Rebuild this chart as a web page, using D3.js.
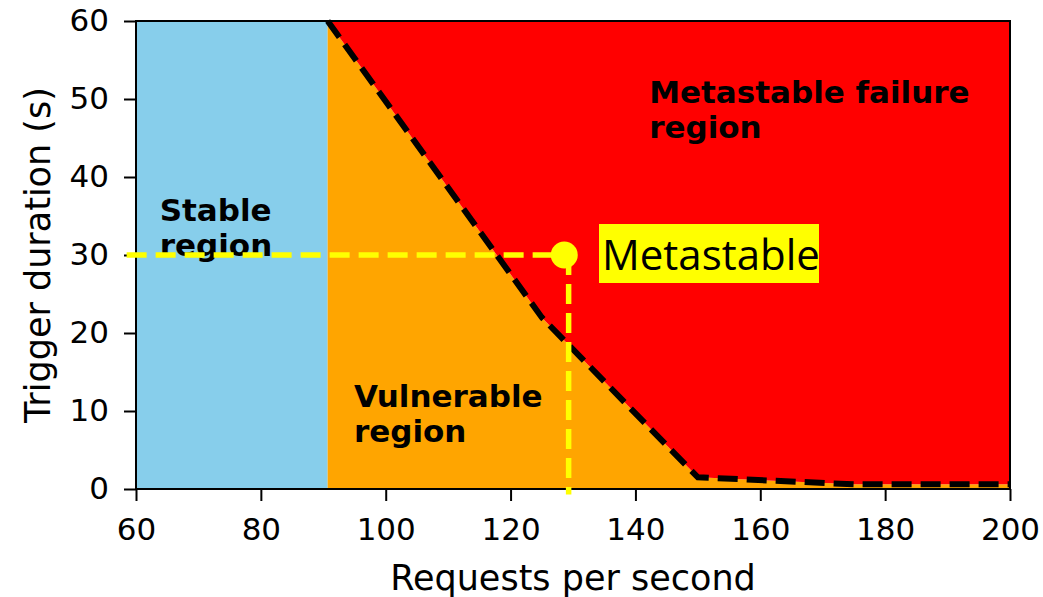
<!DOCTYPE html>
<html>
<head>
<meta charset="utf-8">
<script src="https://cdn.jsdelivr.net/npm/d3@7"></script>
<style>
  body { margin: 0; background: #fff; }
  text { font-family: "DejaVu Sans", sans-serif; }
</style>
</head>
<body>
<div id="chart"></div>
<script>
// boundary between vulnerable and metastable failure region
const boundaryX = [90.7, 125, 150, 175, 200];
const boundaryY = [60, 22, 1.5, 0.6, 0.6];

// stable region limit
const stableMax = 90.7;

// operating point
const pointX = 128.6;
const pointY = 30;
const guideStartX = 58.5;
const guideX = 129.3;
const guideEndY = -0.7;

const xTicks = [60, 80, 100, 120, 140, 160, 180, 200];
const yTicks = [0, 10, 20, 30, 40, 50, 60];

const margin = { top: 21, right: 33, bottom: 108, left: 136 };
const width = 1043 - margin.left - margin.right;
const height = 597 - margin.top - margin.bottom;

const svg = d3.select("#chart")
    .append("svg")
    .attr("width", 1043)
    .attr("height", 597);

const g = svg.append("g")
    .attr("transform", `translate(${margin.left}, ${margin.top})`);

const x = d3.scaleLinear().domain([60, 200]).range([0, width]);
const y = d3.scaleLinear().domain([0, 60]).range([height, 0]);

const boundary = boundaryX.map((v, i) => [v, boundaryY[i]]);

const clip = svg.append("defs").append("clipPath").attr("id", "plotClip");
clip.append("rect").attr("width", width).attr("height", height);

const area = g.append("g").attr("clip-path", "url(#plotClip)");

// stable region
area.append("rect")
    .attr("x", x(60))
    .attr("y", y(60))
    .attr("width", x(stableMax) - x(60))
    .attr("height", y(0) - y(60))
    .attr("fill", "#87CEEB");

const poly = d3.line().x(d => x(d[0])).y(d => y(d[1]));

// vulnerable region (below boundary)
area.append("path")
    .attr("d", poly([...boundary, [200, 0], [stableMax, 0]]) + "Z")
    .attr("fill", "#FFA500");

// metastable failure region (above boundary)
area.append("path")
    .attr("d", poly([...boundary, [200, 60]]) + "Z")
    .attr("fill", "#FF0000");

// boundary line
g.append("path")
    .attr("d", poly(boundary))
    .attr("fill", "none")
    .attr("stroke", "#000")
    .attr("stroke-width", 6)
    .attr("stroke-dasharray", "20,9");

// region labels
const labels = [
    { lines: ["Stable", "region"], x: 63.8, y: 221 },
    { lines: ["Vulnerable", "region"], x: 94.9, y: 407 },
    { lines: ["Metastable failure", "region"], x: 142.2, y: 103 }
];
labels.forEach(l => {
    const t = g.append("text")
        .attr("x", x(l.x))
        .attr("y", l.y - margin.top)
        .attr("font-weight", "bold")
        .attr("font-size", "31px")
        .attr("fill", "#000");
    l.lines.forEach((s, i) => {
        t.append("tspan")
            .attr("x", x(l.x))
            .attr("dy", i === 0 ? 0 : 35)
            .text(s);
    });
});

// axes
const xAxis = g.append("g")
    .attr("transform", `translate(0, ${height})`)
    .call(d3.axisBottom(x).tickValues(xTicks).tickSize(12).tickPadding(17).tickFormat(d3.format("d")));
const yAxis = g.append("g")
    .call(d3.axisLeft(y).tickValues(yTicks).tickSize(12).tickPadding(15).tickFormat(d3.format("d")));

[xAxis, yAxis].forEach(a => {
    a.selectAll("text")
        .style("font-family", "DejaVu Sans")
        .style("font-size", "31px")
        .attr("fill", "#000");
    a.selectAll(".tick line").attr("stroke", "#000").attr("stroke-width", 2);
    a.select(".domain").remove();
});

// frame
g.append("rect")
    .attr("width", width)
    .attr("height", height)
    .attr("fill", "none")
    .attr("stroke", "#000")
    .attr("stroke-width", 2);

// operating point guides
g.append("line")
    .attr("x1", x(guideStartX)).attr("y1", y(pointY))
    .attr("x2", x(pointX)).attr("y2", y(pointY))
    .attr("stroke", "#FFFF00")
    .attr("stroke-width", 5.5)
    .attr("stroke-dasharray", "20,9");
g.append("line")
    .attr("x1", x(guideX)).attr("y1", y(pointY))
    .attr("x2", x(guideX)).attr("y2", y(guideEndY))
    .attr("stroke", "#FFFF00")
    .attr("stroke-width", 5.5)
    .attr("stroke-dasharray", "20,9");
g.append("circle")
    .attr("cx", x(pointX))
    .attr("cy", y(pointY))
    .attr("r", 13.5)
    .attr("fill", "#FFFF00");

// annotation with yellow box
g.append("rect")
    .attr("x", 599 - margin.left)
    .attr("y", 224 - margin.top)
    .attr("width", 220)
    .attr("height", 59)
    .attr("fill", "#FFFF00");
g.append("text")
    .attr("x", 602 - margin.left)
    .attr("y", 270 - margin.top)
    .style("font-family", "'Open Sans', sans-serif")
    .style("font-size", "42px")
    .attr("fill", "#000")
    .text("Metastable");

// axis labels
svg.append("text")
    .attr("x", margin.left + width / 2)
    .attr("y", 590)
    .attr("text-anchor", "middle")
    .style("font-size", "35px")
    .text("Requests per second");
svg.append("text")
    .attr("transform", `translate(50, ${margin.top + height / 2}) rotate(-90)`)
    .attr("text-anchor", "middle")
    .style("font-size", "35px")
    .text("Trigger duration (s)");
</script>
</body>
</html>
